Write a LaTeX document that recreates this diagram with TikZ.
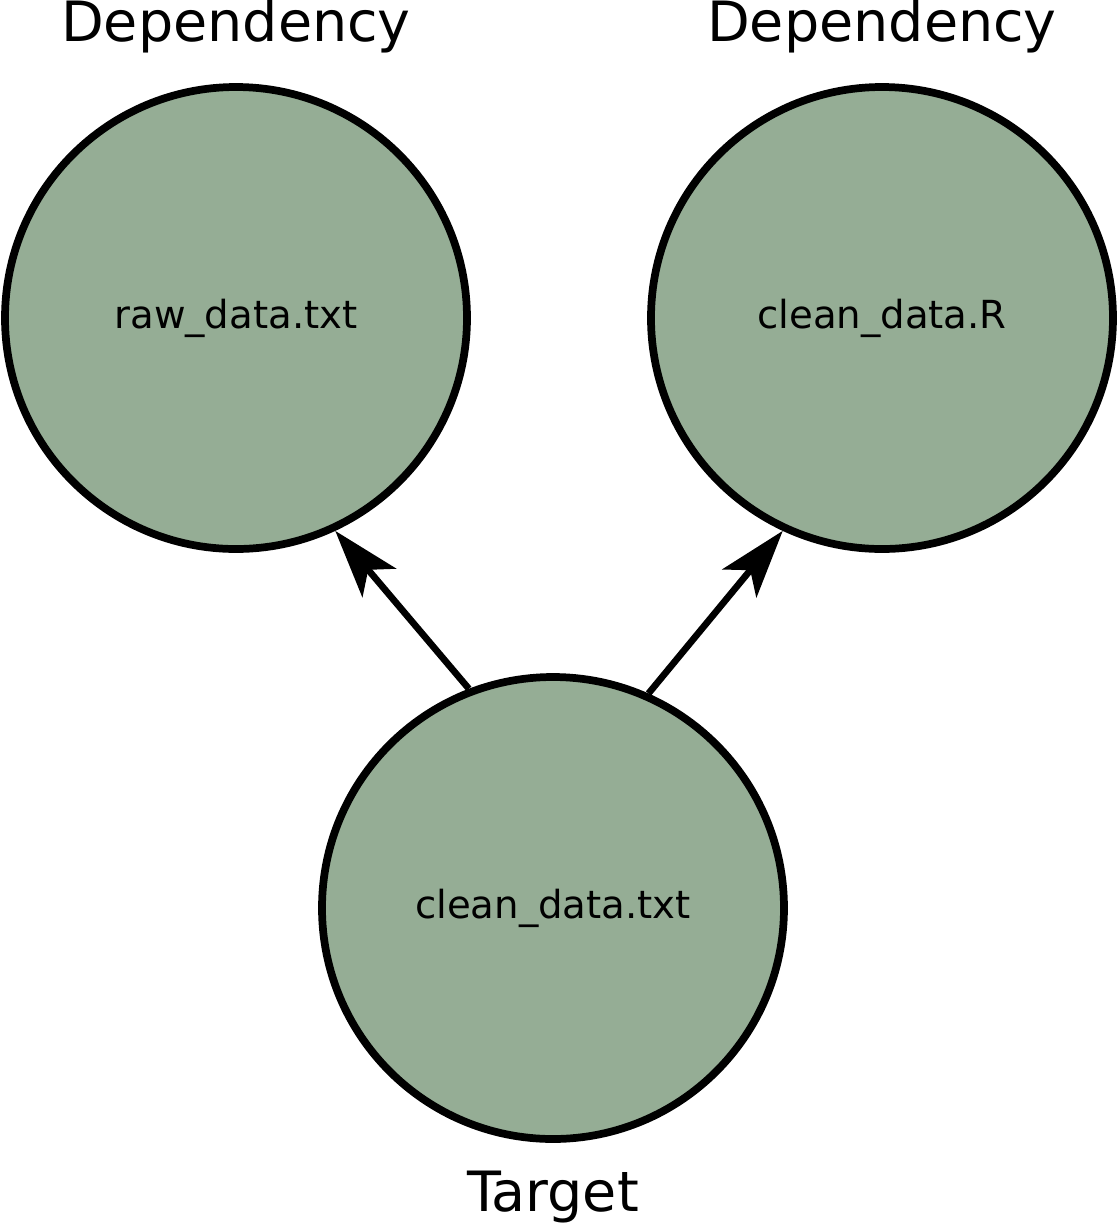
\documentclass[tikz,border=0pt]{standalone}
\usepackage{fontspec}
\setmainfont{DejaVu Sans}
\usetikzlibrary{positioning,arrows.meta}
\definecolor{sage}{RGB}{149,173,149}

\begin{document}
\begin{tikzpicture}[-{Stealth[length=0.68cm,width=0.44cm,inset=0.17cm]}, node distance =5.9cm and 3.2cm, on grid, line width=2.2pt,
file/.style ={circle, fill=sage, draw, minimum size=4.62cm, inner sep=0pt, font=\fontsize{11}{13}\selectfont},
tag/.style ={font=\fontsize{15.8}{18}\selectfont, inner sep=0pt}]
\useasboundingbox (0,0) rectangle (11.2,-12.23);
\node[file] (target) at (5.53,-9.08) {clean\_data.txt};
\node[file, node distance = 5.9cm and 3.17cm] (raw) [above left=of target] {raw\_data.txt};
\node[file, node distance = 5.9cm and 3.29cm] (script) [above right=of target] {clean\_data.R};
\node[tag, node distance = 2.92cm] (dep1) [above=of raw] {Dependency};
\node[tag, node distance = 2.92cm] (dep2) [above=of script] {Dependency};
\node[tag, node distance = 2.89cm] (tgt) [below=of target] {Target};

\draw[line width=1.9pt] (target.111) -- (raw.-65);
\draw[line width=1.9pt] (target.66) -- (script.-115);
\end{tikzpicture}
\end{document}
